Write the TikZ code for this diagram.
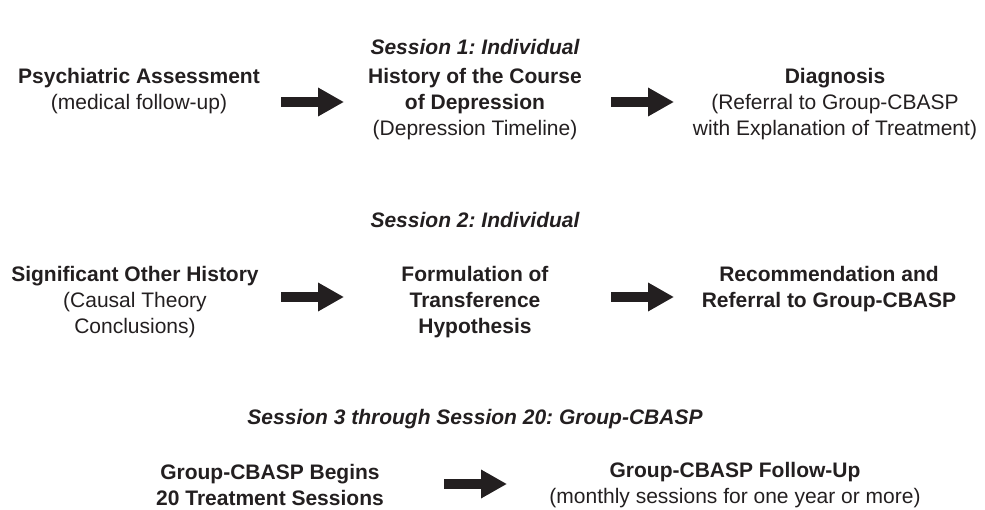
\documentclass[tikz,border=0pt]{standalone}
\usepackage{fontspec}
\setmainfont{Liberation Sans}
\usetikzlibrary{arrows.meta}
\definecolor{ink}{HTML}{231F20}
\frenchspacing
\begin{document}
\begin{tikzpicture}[x=1pt,y=-1pt,
  txt/.style={align=center,text=ink,inner sep=0pt,
    font=\fontsize{21}{26}\selectfont},
  head/.style={text=ink,inner sep=0pt,
    font=\fontsize{21}{26}\selectfont\bfseries\itshape},
  blockarrow/.style={draw=ink,line width=10pt,
    -{Triangle[length=26pt,width=27pt]}}]
\useasboundingbox (0,0) rectangle (985,510);

% Session 1
\node[head] (s1) at (475,47) {Session 1: Individual};
\node[txt] (psy) at (139,91) {\textbf{Psychiatric Assessment}\\(medical follow-up)};
\node[txt] (hist) at (475,104) {\textbf{History of the Course}\\\textbf{of Depression}\\(Depression Timeline)};
\node[txt] (diag) at (835,104) {\textbf{Diagnosis}\\(Referral to Group-CBASP\\with Explanation of Treatment)};
\coordinate (a1s) at (281,102); \coordinate (a1e) at (344,102);
\coordinate (a2s) at (611,102); \coordinate (a2e) at (674,102);
\draw[blockarrow] (a1s) -- (a1e);
\draw[blockarrow] (a2s) -- (a2e);

% Session 2
\node[head] (s2) at (475,220) {Session 2: Individual};
\node[txt] (sig) at (135,302) {\textbf{Significant Other History}\\(Causal Theory\\Conclusions)};
\node[txt] (form) at (475,302) {\textbf{Formulation of}\\\textbf{Transference}\\\textbf{Hypothesis}};
\node[txt] (rec) at (829,289) {\textbf{Recommendation and}\\\textbf{Referral to Group-CBASP}};
\coordinate (b1s) at (281,297); \coordinate (b1e) at (344,297);
\coordinate (b2s) at (611,297); \coordinate (b2e) at (674,297);
\draw[blockarrow] (b1s) -- (b1e);
\draw[blockarrow] (b2s) -- (b2e);

% Sessions 3-20
\node[head] (s3) at (475,419) {Session 3 through Session 20: Group-CBASP};
\node[txt] (beg) at (270,485) {\textbf{Group-CBASP Begins}\\\textbf{20 Treatment Sessions}};
\node[txt] (fol) at (735,485) {\textbf{Group-CBASP Follow-Up}\\(monthly sessions for one year or more)};
\coordinate (c1s) at (444,484); \coordinate (c1e) at (507,484);
\draw[blockarrow] (c1s) -- (c1e);
\end{tikzpicture}
\end{document}
